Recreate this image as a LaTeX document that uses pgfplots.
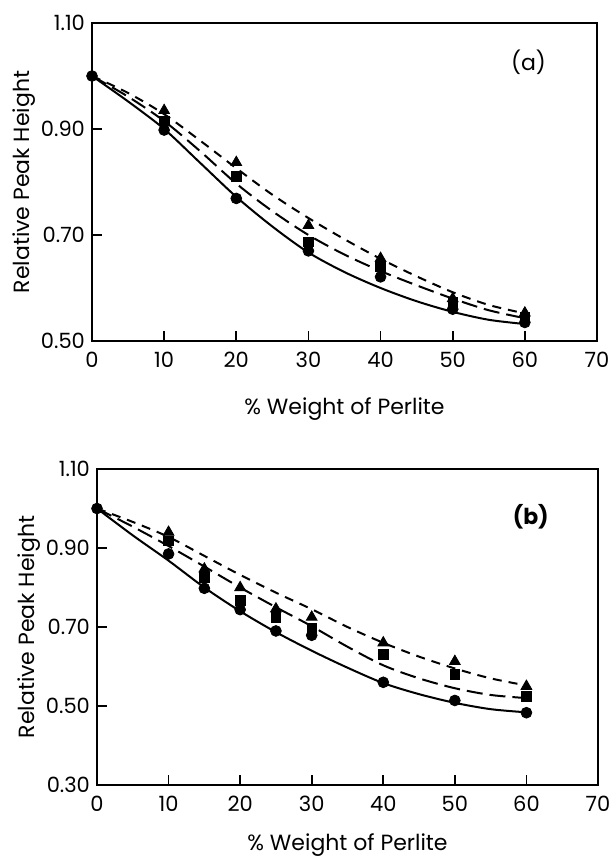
\documentclass[border=0pt]{standalone}
\usepackage{fontspec}
\setmainfont{Poppins}
\usepackage{pgfplots}
\pgfplotsset{compat=1.18}

\pgfplotsset{
  peak/.style={
    scale only axis,
    width=252.5pt,
    xmin=0, xmax=70,
    xtick={0,10,...,70},
    axis x line*=box, axis y line*=box,
    tick align=inside,
    xtick pos=bottom, ytick pos=left,
    major tick length=5pt,
    every tick/.style={black, line width=0.8pt},
    axis line style={line width=0.9pt},
    /pgf/number format/assume math mode=true,
    yticklabel style={/pgf/number format/fixed, /pgf/number format/fixed zerofill, /pgf/number format/precision=2},
    xticklabel style={yshift=-2pt},
    ticklabel style={font=\fontsize{10.5}{12}\selectfont},
    label style={font=\fontsize{11}{13}\selectfont},
    xlabel={\% Weight of Perlite},
    ylabel={Relative Peak Height},
    ylabel style={yshift=-4pt},
    clip=false,
  },
  fit/.style={black, line width=1pt, smooth, no marks},
  circ/.style={only marks, mark=*, mark size=2.7pt, black},
  sq/.style={only marks, mark=square*, mark size=2.4pt, black},
  tri/.style={only marks, mark=triangle*, mark size=3.1pt, black},
  longdash/.style={dash pattern=on 8pt off 3.5pt},
  shortdash/.style={dash pattern=on 4.5pt off 3.5pt},
}

\begin{document}
\begin{tikzpicture}
\useasboundingbox (-46pt,-259.5pt) rectangle (258.5pt,170.5pt);

% (a)
\begin{axis}[peak, height=159pt, at={(0,0)}, anchor=south west,
  xlabel style={yshift=-8pt},
  ymin=0.5, ymax=1.1, ytick={0.5,0.7,0.9,1.1}]
  \addplot[fit] coordinates {
    (0,1.00) (5,0.952) (10,0.900) (15,0.836) (20,0.772) (25,0.716) (30,0.667)
    (35,0.630) (40,0.600) (45,0.575) (50,0.555) (55,0.540) (60,0.532)};
  \addplot[fit, longdash] coordinates {
    (0,1.00) (5,0.961) (10,0.915) (15,0.858) (20,0.797) (25,0.745) (30,0.700)
    (35,0.663) (40,0.632) (45,0.605) (50,0.580) (55,0.558) (60,0.543)};
  \addplot[fit, shortdash] coordinates {
    (0,1.00) (5,0.968) (10,0.928) (15,0.878) (20,0.826) (25,0.776) (30,0.732)
    (35,0.692) (40,0.655) (45,0.622) (50,0.592) (55,0.568) (60,0.552)};
  \addplot[tri] coordinates {
    (10,0.935) (20,0.837) (30,0.718) (40,0.656) (50,0.580) (60,0.553)};
  \addplot[sq] coordinates {
    (10,0.915) (20,0.811) (30,0.687) (40,0.640) (50,0.573) (60,0.545)};
  \addplot[circ] coordinates {
    (0,1.00) (10,0.898) (20,0.769) (30,0.670) (40,0.621) (50,0.560) (60,0.535)};
  \node[font=\fontsize{11}{13}\selectfont] at (axis cs:60.5,1.025) {(a)};
\end{axis}

% (b)
\begin{axis}[peak, height=158pt, at={(2.5pt,-222pt)}, anchor=south west,
  width=250.5pt, xlabel style={yshift=-4pt},
  ymin=0.3, ymax=1.1, ytick={0.3,0.5,0.7,0.9,1.1}]
  \addplot[fit] coordinates {
    (0,1.00) (5,0.932) (10,0.868) (15,0.800) (20,0.740) (25,0.687) (30,0.640)
    (35,0.597) (40,0.558) (45,0.530) (50,0.508) (55,0.492) (60,0.484)};
  \addplot[fit, longdash] coordinates {
    (0,1.00) (5,0.954) (10,0.905) (15,0.853) (20,0.800) (25,0.750) (30,0.702)
    (35,0.650) (40,0.603) (45,0.570) (50,0.545) (55,0.528) (60,0.520)};
  \addplot[fit, shortdash] coordinates {
    (0,1.00) (5,0.966) (10,0.928) (15,0.880) (20,0.832) (25,0.787) (30,0.745)
    (35,0.700) (40,0.660) (45,0.625) (50,0.595) (55,0.570) (60,0.552)};
  \addplot[tri] coordinates {
    (10,0.940) (15,0.847) (20,0.800) (25,0.746) (30,0.725) (40,0.660) (50,0.613) (60,0.550)};
  \addplot[sq] coordinates {
    (10,0.918) (15,0.826) (20,0.767) (25,0.724) (30,0.696) (40,0.630) (50,0.580) (60,0.524)};
  \addplot[circ] coordinates {
    (0,1.00) (10,0.885) (15,0.798) (20,0.744) (25,0.690) (30,0.679) (40,0.560) (50,0.514) (60,0.483)};
  \node[font=\bfseries\fontsize{11}{13}\selectfont] at (axis cs:60.6,0.978) {(b)};
\end{axis}
\end{tikzpicture}
\end{document}
